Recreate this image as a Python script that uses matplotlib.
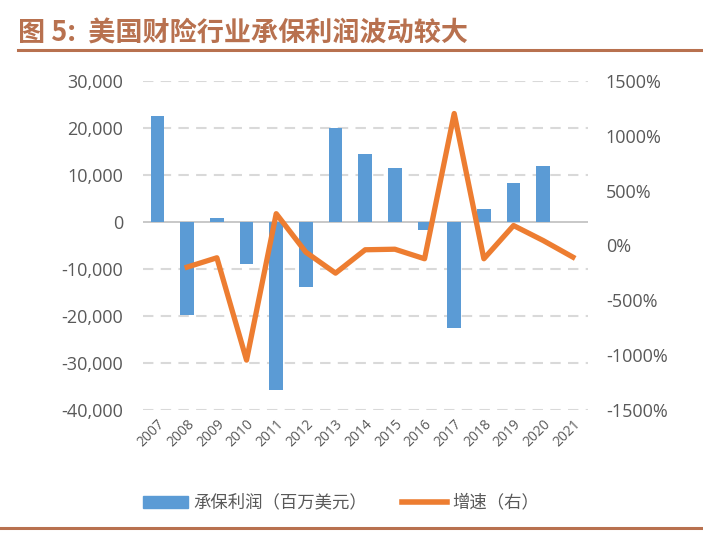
import numpy as np
import matplotlib.pyplot as plt
from matplotlib.ticker import FuncFormatter
from matplotlib.lines import Line2D

plt.rcParams['font.family'] = ['Noto Sans CJK SC', 'DejaVu Sans']

years = ['2007', '2008', '2009', '2010', '2011', '2012', '2013', '2014',
         '2015', '2016', '2017', '2018', '2019', '2020', '2021']
profit = [22500, -19800, 900, -8900, -35700, -13800, 20000, 14500,
          11400, -1700, -22500, 2800, 8300, 12000, np.nan]
growth = [np.nan, -197, -112, -1045, 290, -61, -252, -39,
          -34, -121, 1203, -121, 182, 45, -106]

bar_color = '#5B9BD5'
line_color = '#ED7D31'
brown = '#B8714F'
grey_text = '#595959'

fig = plt.figure(figsize=(7.03, 5.36), dpi=100)
ax = fig.add_axes([0.203, 0.235, 0.633, 0.614])
ax2 = ax.twinx()

x = np.arange(len(years))
ax.bar(x, profit, width=0.46, color=bar_color, zorder=3)
ax.set_ylim(-40000, 30000)
ax.set_yticks(np.arange(-40000, 30001, 10000))
ax.yaxis.set_major_formatter(FuncFormatter(lambda v, p: f'{int(v):,}'))
ax.set_xlim(-0.5, len(years) - 0.5)
ax.set_xticks(x)
ax.set_xticklabels(years, rotation=45, ha='right', rotation_mode='anchor')
for v in np.arange(-40000, 30001, 10000):
    if v == 0:
        ax.axhline(0, color='#BFBFBF', lw=1.2, zorder=2)
    else:
        ax.axhline(v, color='#D9D9D9', lw=1.5, ls=(0, (5, 3.5)), zorder=1)

ax2.plot(x, growth, color=line_color, lw=3.8, zorder=4)
ax2.set_ylim(-1500, 1500)
ax2.set_yticks(np.arange(-1500, 1501, 500))
ax2.yaxis.set_major_formatter(FuncFormatter(lambda v, p: f'{int(v)}%'))

for a in (ax, ax2):
    for s in a.spines.values():
        s.set_visible(False)
    a.tick_params(length=0, labelsize=13, labelcolor=grey_text,
                  labelfontfamily='Open Sans')
ax.tick_params(axis='y', pad=14)
ax2.tick_params(axis='y', pad=13)
ax.tick_params(axis='x', labelsize=10, pad=5)

# legend
handles = [plt.Rectangle((0, 0), 1, 1, color=bar_color),
           Line2D([0], [0], color=line_color, lw=4)]
fig.legend(handles, ['承保利润（百万美元）', '增速（右）'], loc='center',
           bbox_to_anchor=(0.485, 0.062), ncol=2, frameon=False,
           fontsize=12.5, labelcolor=grey_text, handlelength=2.6,
           handletextpad=0.3, columnspacing=2.0)

# title and rules
fig.text(0.026, 0.938, '图 5:  美国财险行业承保利润波动较大', fontsize=19.5,
         fontweight='bold', color=brown, va='center', ha='left')
fig.add_artist(Line2D([0.026, 1.0], [0.907, 0.907], color=brown, lw=2.2))
fig.add_artist(Line2D([0.0, 1.0], [0.015, 0.015], color=brown, lw=2.2))

fig.savefig('out.png', dpi=100)
